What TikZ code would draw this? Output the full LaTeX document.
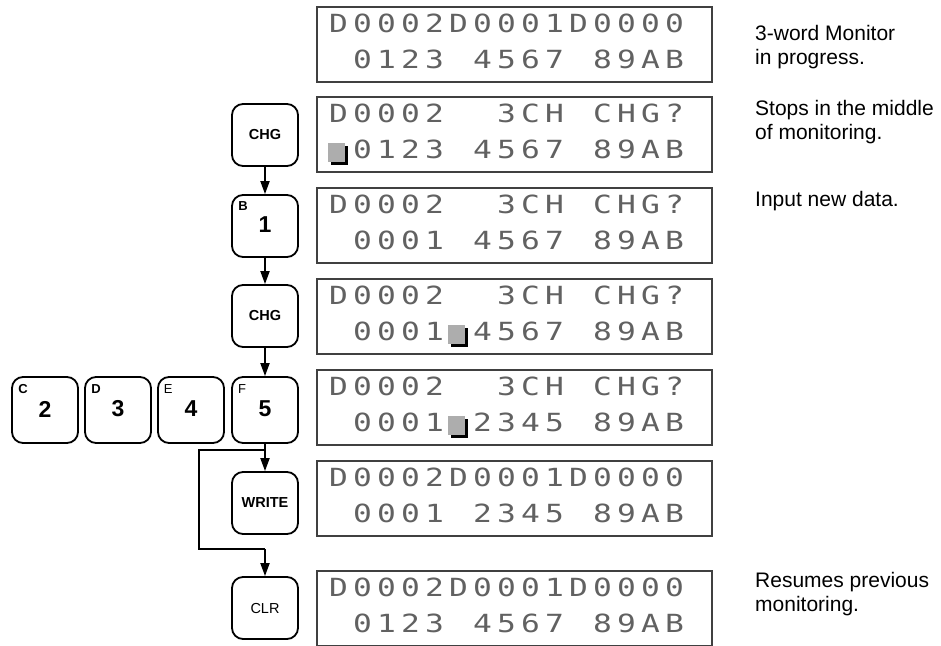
\documentclass[tikz,border=0pt]{standalone}
\usepackage{fontspec}
\setmainfont{Liberation Sans}
\newfontfamily\lcdfont[FakeStretch=1.25]{DejaVu Sans Mono}
\usetikzlibrary{arrows.meta}
\newlength\lcdpitch \setlength\lcdpitch{24pt}
\makeatletter
\def\lcdtext#1{\lcd@loop#1\@nil}
\def\lcd@loop#1{\ifx#1\@nil\else\lcd@put#1\expandafter\lcd@loop\fi}
\def\lcd@put#1{\ifx#1_\hbox to\lcdpitch{\hss}\else\hbox to\lcdpitch{\hss#1\hss}\fi}
\makeatother
\tikzset{
  keybox/.style={draw=black, line width=1.8pt, rounded corners=11pt, minimum width=66pt, minimum height=62pt, inner sep=0pt, font=\fontsize{14.5}{14.5}\selectfont},
  rowkey/.style={keybox, minimum height=66pt},
  digit/.style={font=\fontsize{23}{23}\selectfont\bfseries, inner sep=0pt},
  supb/.style={font=\fontsize{13}{13}\selectfont\bfseries, inner sep=0pt},
  supr/.style={font=\fontsize{13}{13}\selectfont, inner sep=0pt},
  lcdbox/.style={draw=black!75, line width=1.1pt, minimum width=395pt, minimum height=75pt, inner sep=0pt},
  lcdline/.style={anchor=base west, inner sep=0pt, text=black!62, font=\lcdfont\fontsize{25}{25}\selectfont},
  note/.style={anchor=base west, inner sep=0pt, font=\fontsize{21}{21}\selectfont},
  conn/.style={line width=1.8pt, -{Triangle[length=13pt,width=9pt]}},
  cursorgray/.style={fill=black!32},
}
\newcommand\lcdrows[3]{%
  \node[lcdline] at ([xshift=10pt,yshift=-26pt]#1.north west) {\lcdtext{#2}};
  \node[lcdline] at ([xshift=10pt,yshift=-62pt]#1.north west) {\lcdtext{#3}};
}
\newcommand\lcdcursor[2]{%
  \fill[black] ([xshift={10pt+24pt*#2+5pt},yshift=-50pt]#1.north west) rectangle ++(17,19);
  \fill[cursorgray] ([xshift={10pt+24pt*#2+2pt},yshift=-47pt]#1.north west) rectangle ++(17,19);
}
\begin{document}
\begin{tikzpicture}[x=1pt,y=-1pt]
\useasboundingbox (0,0) rectangle (941,645);

% displays
\node[lcdbox] (d1) at (514.5,44.5) {};
\node[lcdbox] (d2) at (514.5,134.5) {};
\node[lcdbox] (d3) at (514.5,225.5) {};
\node[lcdbox] (d4) at (514.5,316.5) {};
\node[lcdbox] (d5) at (514.5,407.5) {};
\node[lcdbox] (d6) at (514.5,498.5) {};
\node[lcdbox] (d7) at (514.5,608.5) {};

\lcdrows{d1}{D0002D0001D0000}{_0123_4567_89AB}
\lcdrows{d2}{D0002__3CH_CHG?}{_0123_4567_89AB}
\lcdrows{d3}{D0002__3CH_CHG?}{_0001_4567_89AB}
\lcdrows{d4}{D0002__3CH_CHG?}{_0001_4567_89AB}
\lcdrows{d5}{D0002__3CH_CHG?}{_0001_2345_89AB}
\lcdrows{d6}{D0002D0001D0000}{_0001_2345_89AB}
\lcdrows{d7}{D0002D0001D0000}{_0123_4567_89AB}

\lcdcursor{d2}{0}
\lcdcursor{d4}{5}
\lcdcursor{d5}{5}

% keys
\node[keybox, font=\fontsize{14.5}{14.5}\selectfont\bfseries] (k1) at (265,135) {CHG};
\node[keybox] (kb) at (265,226) {};
\node[digit] (kb1) at ([yshift=1pt]kb.center) {1};
\node[supb] (kbl) at ([xshift=12pt,yshift=-12pt]kb.north west) {B};
\node[keybox, font=\fontsize{14.5}{14.5}\selectfont\bfseries] (k2) at (265,316) {CHG};

\node[rowkey] (kc) at (45,410) {};
\node[digit] (kc2) at ([yshift=1pt]kc.center) {2};
\node[supb] (kcl) at ([xshift=12pt,yshift=-13pt]kc.north west) {C};
\node[rowkey] (kd) at (118,410) {};
\node[digit] (kd3) at ([yshift=1pt]kd.center) {3};
\node[supb] (kdl) at ([xshift=12pt,yshift=-13pt]kd.north west) {D};
\node[rowkey] (ke) at (191,410) {};
\node[digit] (ke4) at ([yshift=1pt]ke.center) {4};
\node[supr] (kel) at ([xshift=11pt,yshift=-13pt]ke.north west) {E};
\node[rowkey] (kf) at (265,410) {};
\node[digit] (kf5) at ([yshift=1pt]kf.center) {5};
\node[supr] (kfl) at ([xshift=11pt,yshift=-13pt]kf.north west) {F};

\node[keybox, font=\fontsize{14.5}{14.5}\selectfont\bfseries] (kw) at (265,503) {WRITE};
\node[keybox] (kr) at (265,608) {CLR};

% connectors
\draw[conn] (k1) -- (kb);
\draw[conn] (kb) -- (k2);
\draw[conn] (k2) -- (kf);
\draw[conn] (kf) -- (kw);
\coordinate (jt) at (265,450);
\coordinate (lt) at (199,450);
\coordinate (lb) at (199,549);
\coordinate (jb) at (265,549);
\draw[line width=1.8pt] (jt) -- (lt) -- (lb) -- (jb);
\draw[conn] (jb) -- (kr);

% notes
\node[note] (n1a) at (755,40) {3-word Monitor};
\node[note] (n1b) at (755,64) {in progress.};
\node[note] (n2a) at (755,115) {Stops in the middle};
\node[note] (n2b) at (755,139) {of monitoring.};
\node[note] (n3) at (755,206) {Input new data.};
\node[note] (n7a) at (755,587) {Resumes previous};
\node[note] (n7b) at (755,611) {monitoring.};
\end{tikzpicture}
\end{document}
